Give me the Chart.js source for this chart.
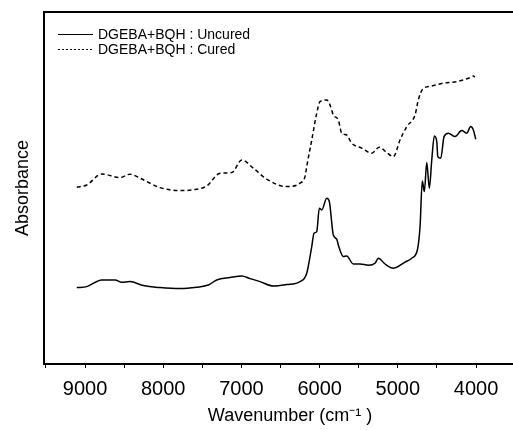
<!DOCTYPE html>
<html>
<head>
<meta charset="utf-8">
<script src="https://cdn.jsdelivr.net/npm/chart.js@4/dist/chart.umd.min.js"></script>
<style>
    html, body { margin: 0; padding: 0; background: #fff; overflow: hidden; }
    #wrap { width: 540px; height: 430px; }
</style>
</head>
<body>
<div id="wrap"><canvas id="chart" width="540" height="430"></canvas></div>
<script>
// series data
const uncuredWave = [9106, 8978, 8786, 8616, 8531, 8425, 8254, 8041, 7785, 7572, 7423, 7316, 7146, 6996, 6890, 6762, 6592, 6421, 6251, 6165, 6101, 6072, 6037, 6004, 5973, 5909, 5876, 5825, 5781, 5761, 5697, 5654, 5569, 5483, 5377, 5292, 5249, 5164, 5057, 4908, 4822, 4750, 4716, 4687, 4661, 4630, 4597, 4566, 4533, 4502, 4489, 4451, 4409, 4354, 4268, 4183, 4119, 4068, 4034, 4004];
const uncuredAbs = [0.382, 0.387, 0.42, 0.42, 0.409, 0.412, 0.392, 0.382, 0.377, 0.384, 0.395, 0.42, 0.432, 0.44, 0.427, 0.412, 0.39, 0.397, 0.412, 0.454, 0.587, 0.654, 0.662, 0.779, 0.77, 0.829, 0.812, 0.645, 0.624, 0.595, 0.537, 0.54, 0.50, 0.50, 0.494, 0.504, 0.529, 0.50, 0.479, 0.509, 0.529, 0.57, 0.687, 0.915, 0.862, 1.007, 0.879, 1.02, 1.14, 1.112, 1.037, 1.029, 1.137, 1.154, 1.137, 1.167, 1.154, 1.187, 1.17, 1.124];

const curedWave = [9106, 8978, 8786, 8552, 8425, 8297, 8041, 7785, 7572, 7444, 7274, 7124, 6996, 6848, 6676, 6421, 6251, 6187, 6165, 6101, 6037, 5995, 5909, 5867, 5825, 5761, 5718, 5654, 5590, 5462, 5334, 5237, 5142, 5057, 4972, 4886, 4780, 4738, 4683, 4566, 4418, 4246, 4098, 4034, 4013];
const curedAbs = [0.884, 0.895, 0.95, 0.932, 0.949, 0.929, 0.882, 0.867, 0.874, 0.89, 0.954, 0.957, 1.02, 0.979, 0.924, 0.887, 0.904, 0.937, 0.987, 1.12, 1.254, 1.312, 1.32, 1.295, 1.245, 1.22, 1.154, 1.145, 1.104, 1.079, 1.054, 1.084, 1.057, 1.037, 1.12, 1.187, 1.245, 1.32, 1.374, 1.39, 1.404, 1.412, 1.429, 1.44, 1.434];

const seriesLabels = ["DGEBA+BQH : Uncured", "DGEBA+BQH : Cured"];
const tickLabels = [9000, 8000, 7000, 6000, 5000, 4000];

const FONT = "'Liberation Sans', Arial, Helvetica, sans-serif";

function toPoints(xs, ys) {
    return xs.map((x, i) => ({ x: x, y: ys[i] }));
}

// frame (top + right) and legend inside the plot
const framePlugin = {
    id: "frame",
    afterDatasetsDraw(chart) {
        const { ctx, chartArea } = chart;
        ctx.save();
        ctx.strokeStyle = "#000";
        ctx.lineWidth = 2;
        ctx.beginPath();
        ctx.moveTo(chartArea.left, chartArea.top);
        ctx.lineTo(chartArea.right, chartArea.top);
        ctx.lineTo(chartArea.right, chartArea.bottom);
        ctx.stroke();

        // legend
        const rows = [34.5, 49.5];
        chart.data.datasets.forEach((ds, i) => {
            const y = rows[i];
            ctx.lineWidth = 1;
            ctx.setLineDash(i === 0 ? [] : [2, 2]);
            ctx.beginPath();
            ctx.moveTo(58, y);
            ctx.lineTo(93, y);
            ctx.stroke();
            ctx.setLineDash([]);
            ctx.fillStyle = "#000";
            ctx.font = "14px " + FONT;
            ctx.textBaseline = "middle";
            ctx.fillText(ds.label, 98, y + 0.5);
        });
        ctx.restore();
    }
};

const ctx = document.getElementById("chart").getContext("2d");

const chart = new Chart(ctx, {
    type: "line",
    data: {
        datasets: [
            {
                label: seriesLabels[0],
                data: toPoints(uncuredWave, uncuredAbs),
                borderColor: "#000",
                borderWidth: 1.5,
                pointRadius: 0,
                cubicInterpolationMode: "monotone",
                fill: false
            },
            {
                label: seriesLabels[1],
                data: toPoints(curedWave, curedAbs),
                borderColor: "#000",
                borderWidth: 1.5,
                borderDash: [4, 3],
                pointRadius: 0,
                cubicInterpolationMode: "monotone",
                fill: false
            }
        ]
    },
    options: {
        responsive: false,
        animation: false,
        layout: { padding: { top: 12, right: 4, left: 0, bottom: 0 } },
        plugins: {
            legend: { display: false },
            tooltip: { enabled: false }
        },
        scales: {
            x: {
                type: "linear",
                reverse: true,
                min: 3233,
                max: 9525,
                afterFit(scale) { scale.height = 66; },
                afterBuildTicks(scale) {
                    const t = [];
                    for (let v = 3500; v <= 9500; v += 500) t.push({ value: v });
                    scale.ticks = t;
                },
                ticks: {
                    autoSkip: false,
                    maxRotation: 0,
                    padding: 9,
                    color: "#000",
                    font: { family: FONT, size: 20 },
                    callback: v => tickLabels.includes(v) ? String(v) : ""
                },
                grid: {
                    drawOnChartArea: false,
                    drawTicks: true,
                    tickLength: 4,
                    color: "#000",
                    lineWidth: 1
                },
                border: { display: true, color: "#000", width: 2 },
                title: {
                    display: true,
                    text: "Wavenumber (cm\u207B\u00B9 )",
                    color: "#000",
                    font: { family: FONT, size: 18 },
                    padding: { top: 0, bottom: 3 }
                }
            },
            y: {
                min: 0,
                max: 1.76,
                afterFit(scale) { scale.width = 44; },
                ticks: { display: false },
                grid: { display: false },
                border: { display: true, color: "#000", width: 2 },
                title: {
                    display: true,
                    text: "Absorbance",
                    color: "#000",
                    font: { family: FONT, size: 18 },
                    padding: { top: 12, bottom: 0 }
                }
            }
        }
    },
    plugins: [framePlugin]
});
</script>
</body>
</html>
